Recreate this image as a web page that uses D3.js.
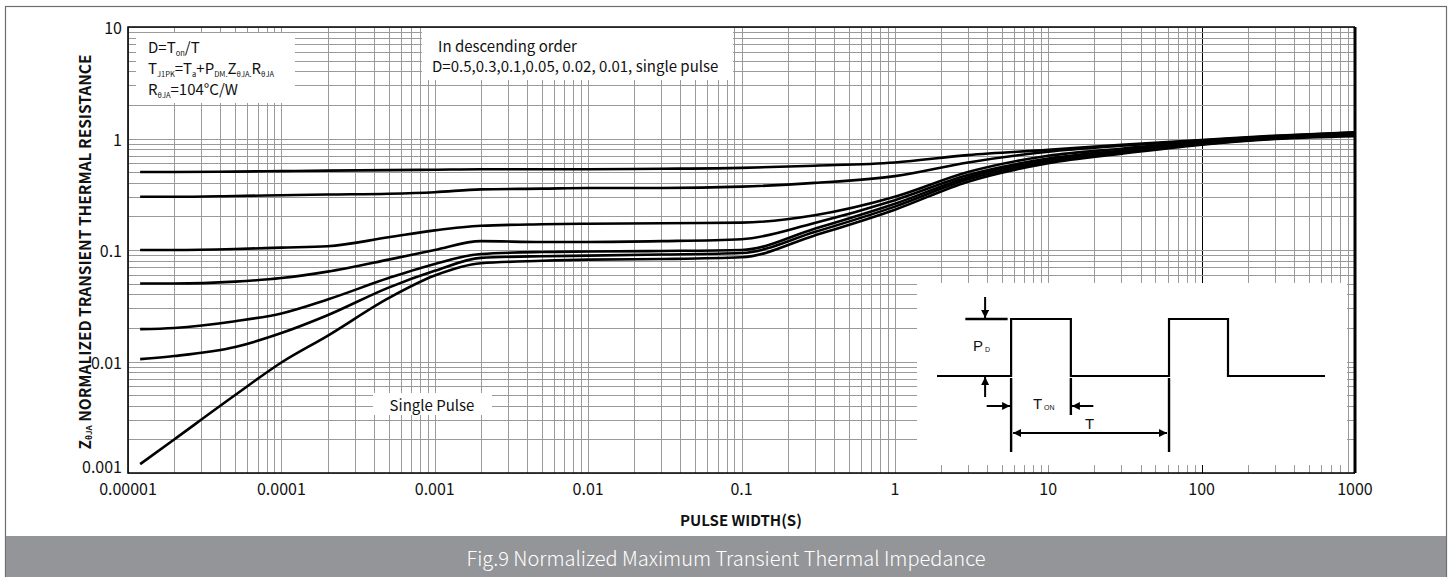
<!DOCTYPE html>
<html>
<head>
<meta charset="utf-8">
<script src="https://cdn.jsdelivr.net/npm/d3@7"></script>
<style>
body { margin: 0; background: #fff; }
text { font-family: "Noto Sans CJK SC", "Noto Sans", sans-serif; fill: #111; }
.grid line { stroke: #9a9a9a; stroke-width: 1; shape-rendering: crispEdges; }
.curve { fill: none; stroke: #000; stroke-width: 2.6; }
.sch { stroke: #000; fill: none; }
</style>
</head>
<body>
<svg id="chart" width="1453" height="577"></svg>
<script>
// pulse width (s) sample points shared by every curve
var pulseWidth = [1.2e-5, 2e-5, 5e-5, 1e-4, 2e-4, 5e-4, 1e-3, 2e-3, 5e-3, 1e-2, 3e-2, 0.1, 0.3, 1, 3, 10, 30, 100, 300, 1000];

// normalized transient thermal resistance, one array per duty cycle
var zD05    = [0.50, 0.50, 0.505, 0.51, 0.515, 0.52, 0.525, 0.53, 0.53, 0.53, 0.535, 0.545, 0.57, 0.61, 0.71, 0.79, 0.88, 0.97, 1.06, 1.14];
var zD03    = [0.30, 0.30, 0.305, 0.31, 0.315, 0.32, 0.33, 0.35, 0.355, 0.36, 0.36, 0.37, 0.40, 0.46, 0.61, 0.76, 0.86, 0.96, 1.05, 1.13];
var zD01    = [0.10, 0.10, 0.102, 0.105, 0.108, 0.13, 0.15, 0.165, 0.17, 0.172, 0.174, 0.176, 0.205, 0.30, 0.50, 0.70, 0.81, 0.94, 1.03, 1.11];
var zD005   = [0.05, 0.05, 0.052, 0.056, 0.064, 0.082, 0.10, 0.12, 0.118, 0.118, 0.12, 0.125, 0.175, 0.28, 0.47, 0.66, 0.78, 0.92, 1.02, 1.10];
var zD002   = [0.0195, 0.02, 0.023, 0.027, 0.036, 0.056, 0.075, 0.092, 0.096, 0.097, 0.098, 0.10, 0.155, 0.26, 0.45, 0.64, 0.76, 0.90, 1.01, 1.09];
var zD001   = [0.0105, 0.0112, 0.0135, 0.018, 0.026, 0.046, 0.065, 0.085, 0.088, 0.089, 0.091, 0.094, 0.145, 0.245, 0.43, 0.62, 0.75, 0.89, 1.00, 1.07];
var zSingle = [0.0012, 0.002, 0.005, 0.0098, 0.017, 0.037, 0.059, 0.076, 0.080, 0.082, 0.083, 0.086, 0.135, 0.23, 0.41, 0.60, 0.73, 0.88, 0.99, 1.05];

var series = [zD05, zD03, zD01, zD005, zD002, zD001, zSingle];
var dutyLabels = ["0.5", "0.3", "0.1", "0.05", "0.02", "0.01", "single pulse"];

var xTickValues = [1e-5, 1e-4, 1e-3, 1e-2, 0.1, 1, 10, 100, 1000];
var xTickLabels = ["0.00001", "0.0001", "0.001", "0.01", "0.1", "1", "10", "100", "1000"];
var yTickValues = [0.001, 0.01, 0.1, 1, 10];
var yTickLabels = ["0.001", "0.01", "0.1", "1", "10"];

var svg = d3.select("#chart");

var margin = {top: 27, right: 98, bottom: 104, left: 128},
    width = 1453 - margin.left - margin.right,
    height = 577 - margin.top - margin.bottom;

var x = d3.scaleLog().domain([1e-5, 1000]).range([margin.left, margin.left + width]);
var y = d3.scaleLog().domain([0.001, 10]).range([margin.top + height, margin.top]);

// outer frame + caption band
svg.append("rect")
    .attr("x", 5.5).attr("y", 6.5).attr("width", 1441).attr("height", 575)
    .attr("fill", "#fff").attr("stroke", "#6d6e71").attr("stroke-width", 1.2);
svg.append("rect")
    .attr("x", 6).attr("y", 536).attr("width", 1440).attr("height", 41)
    .attr("fill", "#939598");
svg.append("text")
    .attr("x", 726).attr("y", 557)
    .attr("text-anchor", "middle").attr("dominant-baseline", "central")
    .style("font-size", "20px").style("font-weight", 300).style("fill", "#fff")
    .text("Fig.9 Normalized Maximum Transient Thermal Impedance");

// grid
var grid = svg.append("g").attr("class", "grid");
grid.selectAll(".gx").data(x.ticks()).enter().append("line")
    .attr("x1", function(d) { return Math.round(x(d)) + 0.5; })
    .attr("x2", function(d) { return Math.round(x(d)) + 0.5; })
    .attr("y1", y.range()[0]).attr("y2", y.range()[1])
    .style("stroke", function(d) { return d === 100 ? "#000" : null; })
    .style("stroke-width", function(d) { return d === 100 ? 1.6 : null; });
grid.selectAll(".gy").data(y.ticks()).enter().append("line")
    .attr("y1", function(d) { return Math.round(y(d)) + 0.5; })
    .attr("y2", function(d) { return Math.round(y(d)) + 0.5; })
    .attr("x1", x.range()[0]).attr("x2", x.range()[1]);

// white label boxes that cover the grid
function box(x0, y0, w, h) {
    svg.append("rect").attr("x", x0).attr("y", y0).attr("width", w).attr("height", h).attr("fill", "#fff");
}
box(136, 33, 159, 70);
box(422, 28, 311, 52);
box(373, 393, 119, 22);
box(917, 283, 430, 182);

// frame of the plot
svg.append("path")
    .attr("d", "M" + x.range()[1] + "," + y.range()[1] + "H" + x.range()[0] + "V" + y.range()[0] + "H" + x.range()[1])
    .attr("fill", "none").attr("stroke", "#000").attr("stroke-width", 1.6);
svg.append("line")
    .attr("x1", x.range()[1]).attr("x2", x.range()[1])
    .attr("y1", y.range()[1]).attr("y2", y.range()[0])
    .attr("stroke", "#000").attr("stroke-width", 3);

// tick labels
svg.selectAll(".xl").data(xTickValues).enter().append("text")
    .attr("x", function(d) { return x(d); })
    .attr("y", 488)
    .attr("text-anchor", "middle").attr("dominant-baseline", "central")
    .style("font-size", "16px")
    .text(function(d, i) { return xTickLabels[i]; });
svg.selectAll(".yl").data(yTickValues).enter().append("text")
    .attr("x", 122)
    .attr("y", function(d) { return d === 0.001 ? y(d) - 7 : y(d); })
    .attr("text-anchor", "end").attr("dominant-baseline", "central")
    .style("font-size", "16px")
    .text(function(d, i) { return yTickLabels[i]; });

// axis titles
svg.append("text")
    .attr("x", 741).attr("y", 519)
    .attr("text-anchor", "middle").attr("dominant-baseline", "central")
    .style("font-size", "15px").style("font-weight", 700)
    .text("PULSE WIDTH(S)");
var yt = svg.append("text")
    .attr("transform", "translate(84,252) rotate(-90)")
    .attr("text-anchor", "middle").attr("dominant-baseline", "central")
    .style("font-size", "15.5px").style("font-weight", 700);
yt.append("tspan").text("Z");
yt.append("tspan").attr("dy", 4).style("font-size", "8px").text("θJA");
yt.append("tspan").attr("dy", -4).text(" NORMALIZED TRANSIENT THERMAL RESISTANCE");

// curves
var line = d3.line()
    .x(function(d, i) { return x(pulseWidth[i]); })
    .y(function(d) { return y(d); })
    .curve(d3.curveMonotoneX);
svg.selectAll(".curve").data(series).enter().append("path")
    .attr("class", "curve")
    .attr("d", line);

// text helper with subscripts: parts = [[text, isSub], ...]
function subText(px, py, parts, size) {
    var t = svg.append("text").attr("x", px).attr("y", py).style("font-size", size + "px");
    var down = false;
    parts.forEach(function(p) {
        var s = t.append("tspan").text(p[0]);
        if (p[1] && !down) { s.attr("dy", 3).style("font-size", (size * 0.5) + "px"); down = true; }
        else if (p[1]) { s.style("font-size", (size * 0.5) + "px"); }
        else if (down) { s.attr("dy", -3); down = false; }
    });
    return t;
}
subText(148, 53, [["D=T"], ["on", 1], ["/T"]], 15);
subText(148, 74, [["T"], ["J1PK", 1], ["=T"], ["a", 1], ["+P"], ["DM.", 1], ["Z"], ["θJA.", 1], ["R"], ["θJA", 1]], 15);
subText(148, 95, [["R"], ["θJA", 1], ["=104°C/W"]], 15);

svg.append("text").attr("x", 438).attr("y", 52).style("font-size", "15px").text("In descending order");
svg.append("text").attr("x", 432).attr("y", 72).style("font-size", "15px")
    .text("D=" + dutyLabels.slice(0, 4).join(",") + ", " + dutyLabels.slice(4).join(", "));
svg.append("text").attr("x", 432).attr("y", 404)
    .attr("text-anchor", "middle").attr("dominant-baseline", "central")
    .style("font-size", "15px").text("Single Pulse");

// pulse schematic (inset)
var defs = svg.append("defs");
defs.append("marker").attr("id", "ah").attr("viewBox", "0 0 10 10")
    .attr("refX", 10).attr("refY", 5).attr("markerWidth", 4).attr("markerHeight", 4)
    .attr("orient", "auto-start-reverse").attr("markerUnits", "strokeWidth")
    .append("path").attr("d", "M0,0L10,5L0,10Z").attr("fill", "#000");

var sx = d3.scaleLinear().domain([0, 100]).range([937, 1325]);
var sy = d3.scaleLinear().domain([0, 1]).range([376, 319]);
var pulseEdges = [[19.1, 34.5], [59.8, 75.0]];
var wave = "M" + sx(0) + "," + sy(0);
pulseEdges.forEach(function(e) {
    wave += "H" + sx(e[0]) + "V" + sy(1) + "H" + sx(e[1]) + "V" + sy(0);
});
wave += "H" + sx(100);
var ins = svg.append("g");
ins.append("path").attr("class", "sch").attr("d", wave).attr("stroke-width", 2.2);
ins.append("line").attr("class", "sch").attr("stroke-width", 2.4)
    .attr("x1", sx(7.3)).attr("x2", sx(18.2)).attr("y1", sy(1)).attr("y2", sy(1));
// P_D arrows
ins.append("line").attr("class", "sch").attr("stroke-width", 2)
    .attr("x1", sx(12.4)).attr("x2", sx(12.4)).attr("y1", sy(1) - 22).attr("y2", sy(1) - 1)
    .attr("marker-end", "url(#ah)");
ins.append("line").attr("class", "sch").attr("stroke-width", 2)
    .attr("x1", sx(12.4)).attr("x2", sx(12.4)).attr("y1", sy(0) + 21).attr("y2", sy(0) + 1)
    .attr("marker-end", "url(#ah)");
// vertical markers
[[pulseEdges[0][0], 76], [pulseEdges[0][1], 39], [pulseEdges[1][0], 76]].forEach(function(m) {
    ins.append("line").attr("class", "sch").attr("stroke-width", 2.4)
        .attr("x1", sx(m[0])).attr("x2", sx(m[0])).attr("y1", sy(0) + 2).attr("y2", sy(0) + m[1]);
});
// T_on arrows
ins.append("line").attr("class", "sch").attr("stroke-width", 2)
    .attr("x1", sx(12.8)).attr("x2", sx(pulseEdges[0][0]) - 1).attr("y1", 406).attr("y2", 406)
    .attr("marker-end", "url(#ah)");
ins.append("line").attr("class", "sch").attr("stroke-width", 2)
    .attr("x1", sx(40.3)).attr("x2", sx(pulseEdges[0][1]) + 1).attr("y1", 406).attr("y2", 406)
    .attr("marker-end", "url(#ah)");
// T double arrow
ins.append("line").attr("class", "sch").attr("stroke-width", 2)
    .attr("x1", sx(pulseEdges[0][0]) + 2).attr("x2", sx(pulseEdges[1][0]) - 2).attr("y1", 433).attr("y2", 433)
    .attr("marker-start", "url(#ah)").attr("marker-end", "url(#ah)");

function insText(px, py, main, sub) {
    var t = ins.append("text").attr("x", px).attr("y", py)
        .attr("dominant-baseline", "central")
        .style("font-family", "'Liberation Sans', Arial, sans-serif").style("font-size", "15px");
    t.append("tspan").text(main);
    if (sub) t.append("tspan").attr("dy", 4).style("font-size", "7px").text(" " + sub);
}
insText(973, 345, "P", "D");
insText(1033, 403, "T", "ON");
insText(1085, 423, "T");
</script>
</body>
</html>
